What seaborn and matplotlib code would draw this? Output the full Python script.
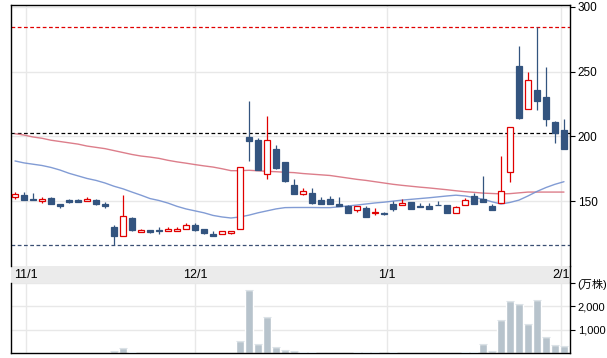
import numpy as np
import pandas as pd
import matplotlib
matplotlib.use('Agg')
from matplotlib import pyplot as plt
import seaborn as sns

# trading days on the chart (TSE calendar, 2025/10/30 - 2026/02/02)
holidays = ['2025-11-03', '2025-11-24', '2025-12-31', '2026-01-01', '2026-01-02', '2026-01-12']
dates = pd.bdate_range('2025-10-30', '2026-02-02', freq='C', holidays=holidays)

open_ = [153, 154.6, 151.5, 150.3, 152.8, 148, 150.8, 150.8, 150.3, 150.8,
         148, 130, 122.8, 137, 126.4, 127.4, 127.6, 126.7, 127, 128.2,
         131.5, 128.5, 124.8, 124.4, 125.6, 128.2, 199.8, 196.9, 171.3, 190,
         180, 162.8, 155.6, 156, 151, 151.5, 148, 146, 143.3, 144.4,
         140.5, 141, 148, 147, 149.7, 146.4, 146.2, 147.2, 146.7, 140.5,
         146.7, 153.6, 151.5, 146.2, 148.2, 172.8, 254.6, 221.3, 236, 230,
         210.8, 204.6]
high = [157, 157, 156, 153, 153.2, 148, 151.7, 151.3, 153, 152,
        149, 131.5, 154.6, 137.5, 128.5, 127.8, 130, 130, 130, 133,
        133, 128.5, 127, 126.7, 126.7, 176.7, 227, 199, 216, 193,
        180, 167, 160.2, 160, 153, 154, 153, 147, 146, 146,
        144.4, 141.5, 150, 151.3, 149.7, 148.7, 148.7, 150, 147.4, 146.2,
        152.8, 156, 169.5, 147.6, 184.6, 207.5, 270, 250, 284.4, 253.8,
        211.5, 213]
low = [152, 151, 150.5, 148.7, 148, 145, 148.7, 149.3, 149.8, 147,
       145, 116.5, 122.8, 127, 126, 125.3, 125, 126.7, 127, 128.2,
       127, 125, 123, 124.4, 124.6, 128.2, 181, 173.8, 167, 174.6,
       165, 155.6, 154.4, 148, 147.5, 147.5, 146.4, 141, 141.8, 137.5,
       139, 139, 142.3, 147, 144, 145.6, 144, 146.8, 140.5, 140.5,
       146.7, 148, 149.5, 143.3, 148.2, 164.8, 213, 221.3, 220.2, 208,
       194.8, 190.5]
close = [155.2, 151, 151, 151.7, 148, 146, 149.6, 149.7, 151.8, 147.5,
         146.2, 122.8, 138.2, 127.4, 128, 126, 127.2, 128.2, 128.5, 131.5,
         127.4, 125.6, 123.3, 126.7, 126.7, 176.7, 196.4, 173.8, 197.4, 175.4,
         165.6, 155.6, 158.2, 148.2, 147.5, 147.5, 146.5, 141, 146, 137.5,
         141.8, 139.8, 144, 148.2, 144, 145.6, 144, 146.8, 140.5, 145.6,
         150.5, 148, 149.5, 143.3, 157.5, 207.5, 213.8, 243.6, 227.2, 213.3,
         202.8, 190.5]
# volume (万株)
volume = [15, 12, 10, 8, 12, 10, 8, 8, 10, 10,
          12, 100, 200, 35, 14, 12, 10, 8, 8, 10,
          8, 8, 10, 6, 8, 530, 2680, 370, 1530, 240,
          115, 70, 30, 25, 20, 20, 18, 20, 22, 45,
          25, 20, 45, 20, 20, 15, 15, 15, 20, 20,
          40, 40, 370, 90, 1430, 2220, 2090, 1230, 2260, 670,
          330, 290]
ma_short = [181, 179.5, 178.5, 177.5, 176, 174, 171.5, 169.5, 167.5, 166,
            164, 161.5, 159.5, 157, 154.6, 152, 150.5, 148.5, 146, 144,
            142.5, 141, 139, 137.8, 137, 137.8, 139.2, 141, 142.5, 144,
            145, 145.1, 145.1, 145.1, 145, 145, 145.6, 146.3, 147, 147.8,
            148.6, 149.2, 150, 150.8, 151.4, 152, 152.6, 153.3, 154, 154.6,
            154, 152.8, 151.5, 149.5, 147.8, 149, 150.8, 154, 157.5, 160.5,
            163, 165]
ma_long = [202, 201, 199.5, 198.5, 197, 196, 195, 194, 192.5, 191.5,
           190.5, 189, 187.5, 186, 184.8, 184, 183, 181.5, 180.3, 179.3,
           178.2, 177.2, 176.3, 175, 173.5, 173.5, 173.8, 173.4, 173, 172.7,
           172.3, 172, 171.3, 170.8, 170.3, 169.8, 168.8, 167.8, 166.8, 166,
           165, 164, 163, 162.2, 161.5, 160.8, 160.2, 159.5, 158.8, 158,
           157.3, 156.8, 156.2, 155.9, 155.6, 155.8, 156.4, 157, 157, 157,
           157, 157]
month_labels = ['11/1', '12/1', '1/1', '2/1']
month_starts = pd.to_datetime(['2025-11-01', '2025-12-01', '2026-01-01', '2026-02-01'])

sns.set_style('white')
plt.rcParams['font.family'] = ['Liberation Sans', 'Noto Sans CJK JP']

UP = '#e00000'
DOWN = '#33547f'
GRID = '#e8e8e8'

idx = np.arange(len(dates))
o, h, l, c = (np.array(a, dtype=float) for a in (open_, high, low, close))
up = c >= o
# month lines sit between trading days, by calendar time
month_pos = np.interp(month_starts.values.astype('int64'), dates.values.astype('int64'), idx)

W, H = 607, 358
def box(left, top, right, bottom):
    return [left / W, 1 - bottom / H, (right - left) / W, (bottom - top) / H]

fig = plt.figure(figsize=(W / 100, H / 100), dpi=100)
band = fig.add_axes(box(10.5, 265.7, 570, 283))
ax = fig.add_axes(box(10.5, 4.5, 570, 265.7))
axv = fig.add_axes(box(10.5, 283, 570, 353))
xlim = (-0.5, 61.67)

# price panel
for x in month_pos:
    ax.axvline(x, color=GRID, lw=1, zorder=0)
ax.set_yticks([150, 200, 250, 300])
ax.grid(axis='y', color=GRID, lw=1, zorder=0)

sns.lineplot(x=idx, y=ma_long, color='#d9707e', lw=1.0, alpha=0.9, ax=ax, zorder=2)
sns.lineplot(x=idx, y=ma_short, color='#7491d0', lw=1.0, alpha=0.9, ax=ax, zorder=2)

colors = np.where(up, UP, DOWN)
ax.vlines(idx, l, h, colors=colors, lw=0.9, zorder=3)
body = np.maximum(np.abs(c - o), 0.5)
ax.bar(idx, body, bottom=np.minimum(o, c), width=0.58,
       color=np.where(up, 'white', DOWN), edgecolor=colors, linewidth=0.9, zorder=4)

ax.axhline(h.max(), color='#e00000', lw=0.9, ls=(0, (3, 2)), zorder=1)
ax.axhline(c[-2], color='black', lw=0.9, ls=(0, (3, 2)), zorder=1)
ax.axhline(l.min(), color='#3a4f73', lw=0.9, ls=(0, (3, 2)), zorder=1)

ax.set_xlim(*xlim)
ax.set_ylim(100.2, 301.7)
ax.set_xticks(month_pos)
ax.yaxis.tick_right()
ax.tick_params(axis='y', length=3.5, width=0.8, pad=2, labelsize=8.5, colors='black')
ax.tick_params(axis='x', length=3, width=0.8, labelbottom=False, color='#333333')
ax.set_xlabel('')
ax.set_ylabel('')
ax.spines['bottom'].set_visible(False)
for s in ('top', 'left', 'right'):
    ax.spines[s].set_color('black')
    ax.spines[s].set_linewidth(1)

# date band
band.set_facecolor('#ebebeb')
band.set_xlim(*xlim)
band.set_ylim(0, 1)
band.set_xticks([])
band.set_yticks([])
for s in ('top', 'left', 'bottom'):
    band.spines[s].set_visible(False)
band.spines['right'].set_color('black')
band.spines['right'].set_linewidth(1)
for x, lab in zip(month_pos, month_labels):
    band.text(x, 0.45, lab, ha='center', va='center', fontsize=9, color='black')

# volume panel
for x in month_pos:
    axv.axvline(x, color=GRID, lw=1, zorder=0)
sns.barplot(x=idx, y=volume, native_scale=True, width=0.88, color='#b7c3cc',
            saturation=1, errorbar=None, ax=axv, zorder=2)
axv.hlines(volume, idx - 0.43, idx + 0.43, color='#dbe2e7', lw=0.8, zorder=3)
axv.set_xlim(*xlim)
axv.set_ylim(0, 3000)
axv.set_yticks([1000, 2000, 3000])
axv.set_yticklabels(['1,000', '2,000', '(万株)'])
axv.grid(axis='y', color=GRID, lw=1, zorder=0)
axv.set_xticks(month_pos)
axv.set_xticklabels([])
axv.yaxis.tick_right()
axv.tick_params(axis='y', length=3.5, width=0.8, pad=2, labelsize=8, colors='black')
axv.tick_params(axis='x', length=3, width=0.8, color='black')
axv.set_xlabel('')
axv.set_ylabel('')
axv.spines['top'].set_visible(False)
for s in ('bottom', 'left', 'right'):
    axv.spines[s].set_color('black')
    axv.spines[s].set_linewidth(1)

fig.savefig('out.png', dpi=100)
